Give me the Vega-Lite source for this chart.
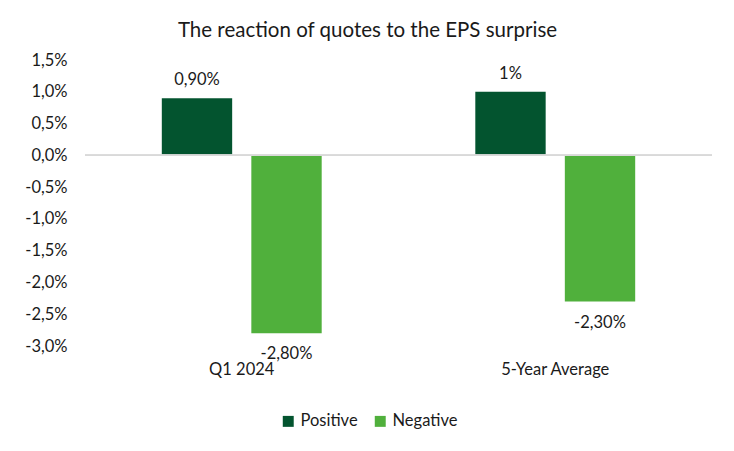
{
  "$schema": "https://vega.github.io/schema/vega-lite/v6.json",
  "width": 627,
  "height": 286,
  "autosize": {"type": "none"},
  "padding": {"left": 85, "top": 60, "right": 22, "bottom": 105},
  "background": "white",
  "config": {
    "locale": {"number": {"decimal": ",", "thousands": ".", "grouping": [3], "currency": ["", " €"], "minus": "-"}},
    "font": "Lato",
    "view": {"stroke": null},
    "axis": {"labelOverlap": false}
  },
  "title": {
    "text": "The reaction of quotes to the EPS surprise",
    "fontSize": 20.5,
    "fontWeight": "normal",
    "color": "#1a1a1a",
    "font": "Lato",
    "anchor": "middle",
    "dx": -31,
    "offset": 11
  },
  "data": {
    "values": [
      {"period": "Q1 2024", "type": "Positive", "value": 0.009, "label": "0,90%"},
      {"period": "Q1 2024", "type": "Negative", "value": -0.028, "label": "-2,80%"},
      {"period": "5-Year Average", "type": "Positive", "value": 0.01, "label": "1%"},
      {"period": "5-Year Average", "type": "Negative", "value": -0.023, "label": "-2,30%"}
    ]
  },
  "encoding": {
    "x": {
      "field": "period", "type": "nominal", "sort": ["Q1 2024", "5-Year Average"],
      "scale": {"paddingInner": 0.49, "paddingOuter": 0.245},
      "axis": {"title": null, "domain": false, "ticks": false, "labelAngle": 0, "labelFontSize": 16.5, "labelColor": "#1a1a1a", "labelPadding": 15}
    },
    "xOffset": {"field": "type", "type": "nominal", "sort": ["Positive", "Negative"], "scale": {"paddingInner": 0.214, "paddingOuter": 0}},
    "y": {
      "field": "value", "type": "quantitative",
      "scale": {"domain": [-0.03, 0.015], "nice": false},
      "axis": {"title": null, "format": ".1%", "values": [-0.03, -0.025, -0.02, -0.015, -0.01, -0.005, 0, 0.005, 0.01, 0.015], "labelOverlap": false, "domain": false, "ticks": false, "grid": false, "labelFontSize": 16.5, "labelColor": "#1a1a1a", "labelPadding": 18}
    }
  },
  "layer": [
    {
      "mark": {"type": "bar"},
      "encoding": {
        "color": {
          "field": "type", "type": "nominal", "sort": ["Positive", "Negative"],
          "scale": {"domain": ["Positive", "Negative"], "range": ["#03542F", "#50B03C"]},
          "legend": {"title": null, "orient": "none", "legendX": 195, "legendY": 353, "direction": "horizontal", "symbolType": "square", "symbolSize": 120, "labelFontSize": 16.5, "labelColor": "#1a1a1a", "columnPadding": 14, "symbolStrokeWidth": 0}
        }
      }
    },
    {
      "mark": {"type": "rule", "color": "#D9D9D9", "strokeWidth": 1.5},
      "encoding": {"y": {"datum": 0}, "x": null, "xOffset": null}
    },
    {
      "mark": {"type": "text", "fontSize": 16.5, "color": "#1a1a1a", "baseline": "bottom", "dy": -10},
      "transform": [{"filter": "datum.value > 0"}],
      "encoding": {
        "text": {"field": "label"}
      }
    },
    {
      "mark": {"type": "text", "fontSize": 16.5, "color": "#1a1a1a", "baseline": "top", "dy": 13},
      "transform": [{"filter": "datum.value < 0"}],
      "encoding": {
        "text": {"field": "label"}
      }
    }
  ]
}
